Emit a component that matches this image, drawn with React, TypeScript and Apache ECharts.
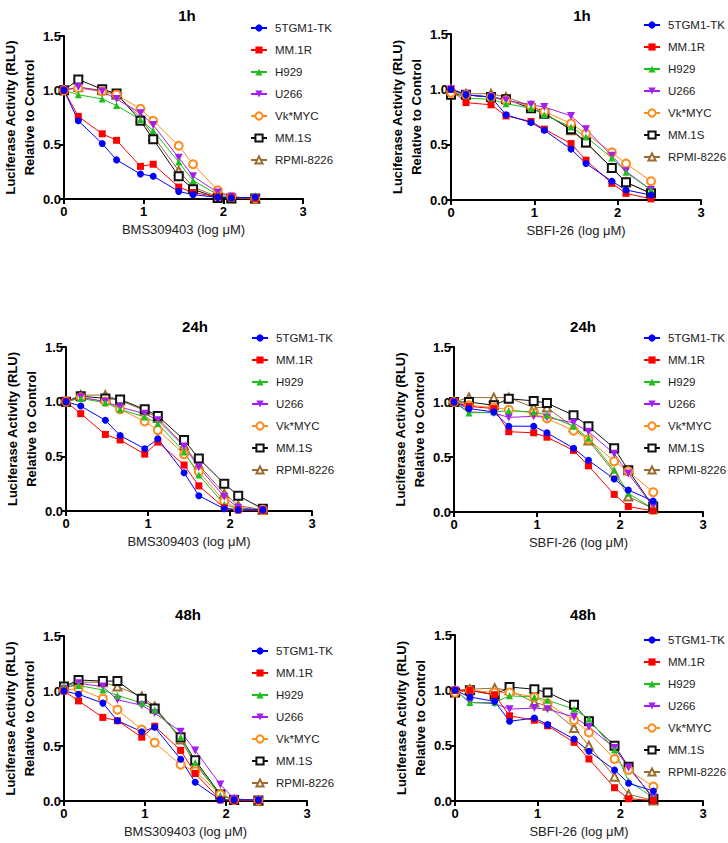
import React, { useEffect, useRef } from "react";
import * as echarts from "echarts";

const CELL_LINES = ["5TGM1-TK", "MM.1R", "H929", "U266", "Vk*MYC", "MM.1S", "RPMI-8226"];
const LOG_DOSE = [0, 0.18, 0.48, 0.66, 0.96, 1.12, 1.44, 1.62, 1.93, 2.1, 2.4];
const PANEL_TITLES = ["1h", "1h", "24h", "24h", "48h", "48h"];
const DRUG_LABELS = ["BMS309403 (log \u03bcM)", "SBFI-26 (log \u03bcM)"];
const X_TICKS = [0, 1, 2, 3];
const Y_TICKS = [0, 0.5, 1.0, 1.5];

// values per cell line, in CELL_LINES order
const bms1h: number[][] = [
  [1.0, 0.72, 0.51, 0.36, 0.23, 0.21, 0.07, 0.04, 0.015, 0.01, 0.015],
  [1.0, 0.76, 0.6, 0.54, 0.3, 0.32, 0.11, 0.06, 0.02, 0.01, 0.005],
  [1.0, 0.96, 0.92, 0.86, 0.73, 0.63, 0.34, 0.17, 0.04, 0.01, 0.005],
  [1.0, 1.03, 0.99, 0.92, 0.79, 0.68, 0.38, 0.21, 0.06, 0.02, 0.005],
  [1.0, 1.02, 0.99, 0.96, 0.83, 0.72, 0.49, 0.32, 0.08, 0.02, 0.005],
  [1.0, 1.1, 1.01, 0.97, 0.72, 0.55, 0.21, 0.09, 0.01, 0.005, 0.005],
  [1.0, 1.03, 1.0, 0.96, 0.75, 0.58, 0.26, 0.11, 0.02, 0.01, 0.005],
];
const sbfi1h: number[][] = [
  [1.0, 0.95, 0.93, 0.77, 0.7, 0.63, 0.46, 0.33, 0.17, 0.09, 0.045],
  [1.0, 0.88, 0.86, 0.76, 0.71, 0.64, 0.51, 0.36, 0.15, 0.06, 0.01],
  [1.0, 0.92, 0.91, 0.87, 0.83, 0.77, 0.66, 0.57, 0.38, 0.25, 0.09],
  [1.0, 0.95, 0.93, 0.9, 0.86, 0.84, 0.76, 0.64, 0.4, 0.26, 0.09],
  [0.97, 0.95, 0.93, 0.9, 0.85, 0.8, 0.69, 0.6, 0.43, 0.33, 0.17],
  [0.95, 0.95, 0.93, 0.91, 0.83, 0.78, 0.64, 0.52, 0.29, 0.16, 0.06],
  [1.0, 0.96, 0.96, 0.93, 0.85, 0.79, 0.63, 0.52, 0.29, 0.16, 0.06],
];
const bms24h: number[][] = [
  [1.0, 0.96, 0.83, 0.69, 0.57, 0.66, 0.35, 0.14, 0.02, 0.01, 0.01],
  [1.0, 0.89, 0.7, 0.65, 0.52, 0.63, 0.42, 0.23, 0.03, 0.01, 0.005],
  [1.0, 1.03, 0.99, 0.93, 0.86, 0.8, 0.54, 0.33, 0.06, 0.02, 0.01],
  [1.0, 1.04, 1.0, 0.95, 0.89, 0.83, 0.59, 0.4, 0.13, 0.03, 0.01],
  [1.0, 1.04, 1.0, 0.93, 0.82, 0.74, 0.52, 0.36, 0.09, 0.02, 0.01],
  [1.0, 1.05, 1.03, 1.02, 0.93, 0.87, 0.65, 0.48, 0.25, 0.14, 0.02],
  [1.0, 1.06, 1.06, 1.01, 0.92, 0.85, 0.6, 0.42, 0.16, 0.05, 0.01],
];
const sbfi24h: number[][] = [
  [1.0, 0.94, 0.91, 0.78, 0.78, 0.72, 0.58, 0.47, 0.3, 0.2, 0.1],
  [1.0, 0.96, 0.94, 0.73, 0.72, 0.68, 0.56, 0.42, 0.16, 0.05, 0.01],
  [1.0, 0.9, 0.91, 0.92, 0.91, 0.88, 0.78, 0.67, 0.38, 0.17, 0.03],
  [1.0, 0.91, 0.9, 0.86, 0.87, 0.86, 0.81, 0.73, 0.53, 0.35, 0.05],
  [1.0, 0.97, 0.95, 0.93, 0.9, 0.85, 0.74, 0.66, 0.46, 0.37, 0.18],
  [1.0, 1.0, 0.97, 1.03, 1.01, 0.99, 0.88, 0.78, 0.58, 0.38, 0.05],
  [1.0, 1.04, 1.04, 1.04, 0.95, 0.95, 0.77, 0.65, 0.36, 0.14, 0.03],
];
const bms48h: number[][] = [
  [1.0, 0.97, 0.89, 0.73, 0.63, 0.67, 0.38, 0.17, 0.01, 0.01, 0.01],
  [1.0, 0.91, 0.76, 0.73, 0.58, 0.68, 0.46, 0.25, 0.01, 0.005, 0.005],
  [1.04, 1.05, 1.01, 0.96, 0.89, 0.83, 0.58, 0.35, 0.05, 0.01, 0.005],
  [1.02, 1.07, 1.04, 0.92, 0.87, 0.8, 0.63, 0.46, 0.15, 0.02, 0.005],
  [1.01, 1.02, 0.93, 0.83, 0.65, 0.53, 0.33, 0.27, 0.06, 0.01, 0.005],
  [1.04, 1.1, 1.09, 1.09, 0.93, 0.84, 0.58, 0.37, 0.06, 0.01, 0.005],
  [1.04, 1.08, 1.08, 1.04, 0.95, 0.86, 0.56, 0.33, 0.06, 0.01, 0.005],
];
const sbfi48h: number[][] = [
  [1.0, 0.94, 0.9, 0.72, 0.75, 0.69, 0.56, 0.45, 0.28, 0.16, 0.09],
  [1.0, 1.0, 0.96, 0.77, 0.73, 0.68, 0.53, 0.38, 0.12, 0.02, 0.005],
  [1.0, 0.89, 0.89, 0.95, 0.94, 0.91, 0.83, 0.74, 0.46, 0.18, 0.03],
  [1.0, 0.89, 0.88, 0.83, 0.84, 0.83, 0.76, 0.67, 0.48, 0.3, 0.03],
  [0.98, 1.0, 0.98, 0.98, 0.94, 0.88, 0.73, 0.62, 0.38, 0.28, 0.13],
  [0.98, 1.0, 0.96, 1.03, 1.01, 0.98, 0.87, 0.72, 0.5, 0.31, 0.02],
  [1.0, 1.01, 1.02, 1.0, 0.89, 0.86, 0.66, 0.5, 0.22, 0.06, 0.005],
];
const PANEL_DATA = [bms1h, sbfi1h, bms24h, sbfi24h, bms48h, sbfi48h];

const COLORS = ["#0000ff", "#ff0000", "#1fbf1f", "#a41ef0", "#ff8c1a", "#111111", "#9c6b2e"];
const DOWN_TRI = "path://M0,0L10,0L5,9Z";
const SYMBOLS = ["circle", "rect", "triangle", DOWN_TRI, "emptyCircle", "emptyRect", "emptyTriangle"];
const FILLED = [true, true, true, true, false, false, false];

// layout: [left, top, width, height]
const GRIDS = [
  [59, 36, 244, 163],
  [451, 34, 250, 166],
  [66, 347, 246, 164],
  [454, 347, 249, 165],
  [60, 636, 247, 165],
  [455, 635, 248, 166],
];
const TITLE_POS = [
  [182, 12],
  [577, 12],
  [190, 323],
  [578, 323],
  [183, 611],
  [578, 611],
];
const LEGEND_POS = [
  [250, 27],
  [643, 24],
  [251, 337],
  [643, 337],
  [251, 650],
  [643, 639],
];

const FONT = "'Liberation Sans', Arial, Helvetica, sans-serif";

export default function App() {
  const ref = useRef<HTMLDivElement>(null);
  useEffect(() => {
    if (!ref.current) return;
    const chart = echarts.init(ref.current, undefined, { renderer: "svg" });

    const grid: any[] = [];
    const xAxis: any[] = [];
    const yAxis: any[] = [];
    const title: any[] = [];
    const legend: any[] = [];
    const series: any[] = [];

    GRIDS.forEach((g, p) => {
      grid.push({ left: g[0], top: g[1], width: g[2], height: g[3], containLabel: false });
      xAxis.push({
        type: "value",
        gridIndex: p,
        min: X_TICKS[0],
        max: X_TICKS[X_TICKS.length - 1],
        interval: 1,
        name: DRUG_LABELS[p % 2],
        nameLocation: "middle",
        nameGap: 24,
        nameTextStyle: { fontFamily: FONT, fontSize: 13, color: "#222" },
        axisLine: { lineStyle: { color: "#000", width: 2 } },
        axisTick: { length: 5, lineStyle: { color: "#000", width: 2 } },
        axisLabel: { fontFamily: FONT, fontSize: 13, fontWeight: "bold", color: "#000", margin: 6 },
        splitLine: { show: false },
      });
      yAxis.push({
        type: "value",
        gridIndex: p,
        min: Y_TICKS[0],
        max: Y_TICKS[Y_TICKS.length - 1],
        interval: 0.5,
        name: "Luciferase Activity (RLU)\nRelative to Control",
        nameLocation: "middle",
        nameRotate: 90,
        nameGap: 24,
        nameTextStyle: { fontFamily: FONT, fontSize: 13, fontWeight: "bold", color: "#000", lineHeight: 19 },
        axisLine: { show: true, lineStyle: { color: "#000", width: 2 } },
        axisTick: { show: true, length: 5, lineStyle: { color: "#000", width: 2 } },
        axisLabel: {
          fontFamily: FONT,
          fontSize: 13,
          fontWeight: "bold",
          color: "#000",
          margin: 3,
          formatter: (v: number) => v.toFixed(1),
        },
        splitLine: { show: false },
      });
      title.push({
        text: PANEL_TITLES[p],
        left: TITLE_POS[p][0],
        top: TITLE_POS[p][1] - 9,
        textAlign: "center",
        textStyle: { fontFamily: FONT, fontSize: 15, fontWeight: "bold", color: "#000" },
      });
      legend.push({
        orient: "vertical",
        left: LEGEND_POS[p][0],
        top: LEGEND_POS[p][1] - 5,
        itemWidth: 16,
        itemHeight: 9,
        itemGap: 10,
        padding: 0,
        data: CELL_LINES,
        textStyle: { fontFamily: FONT, fontSize: 11.5, color: "#222", padding: [0, 0, 0, 3] },
      });
      const data = PANEL_DATA[p];
      for (let k = CELL_LINES.length - 1; k >= 0; k--) {
        series.push({
          type: "line",
          name: CELL_LINES[k],
          xAxisIndex: p,
          yAxisIndex: p,
          data: LOG_DOSE.map((x, i) => [x, data[k][i]]),
          symbol: SYMBOLS[k],
          symbolSize: FILLED[k] ? (k === 3 ? 8 : 7) : 8,
          showAllSymbol: true,
          lineStyle: { color: COLORS[k], width: 1 },
          itemStyle: {
            color: COLORS[k],
            borderColor: COLORS[k],
            borderWidth: FILLED[k] ? 0 : 1.5,
          },
          emphasis: { disabled: true },
        });
      }
    });

    chart.setOption({
      animation: false,
      backgroundColor: "#fff",
      color: COLORS,
      grid,
      xAxis,
      yAxis,
      title,
      legend,
      series,
    });
    return () => chart.dispose();
  }, []);
  return (
    <div
      ref={ref}
      style={{ position: "absolute", left: 0, top: 0, width: 728, height: 843 }}
    />
  );
}
